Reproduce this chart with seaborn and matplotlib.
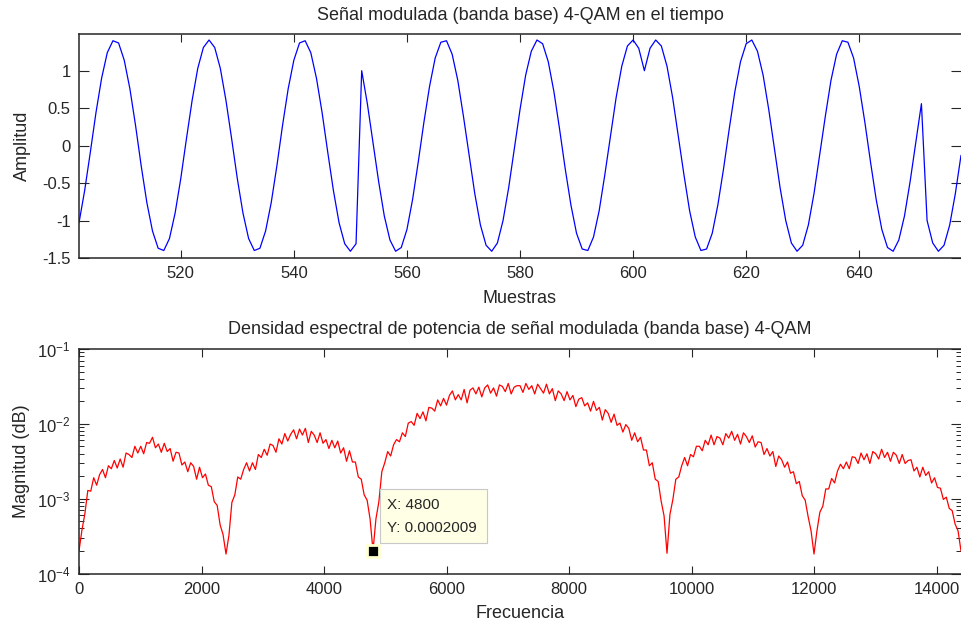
import numpy as np
import seaborn as sns
import matplotlib.pyplot as plt

# --- time signal, samples 502..658 ---
sample_start = 502
amplitude = [
    -1.03, -0.60, -0.09, 0.44, 0.90, 1.24, 1.40, 1.37, 1.14, 0.76,
    0.27, -0.27, -0.76, -1.14, -1.37, -1.40, -1.24, -0.90, -0.44, 0.09,
    0.60, 1.03, 1.31, 1.41, 1.31, 1.03, 0.60, 0.09, -0.44, -0.90,
    -1.24, -1.40, -1.37, -1.14, -0.76, -0.27, 0.27, 0.76, 1.14, 1.37,
    1.40, 1.24, 0.90, 0.44, -0.09, -0.60, -1.03, -1.31, -1.41, -1.31,
    1.00, 0.56, 0.04, -0.48, -0.94, -1.26, -1.41, -1.36, -1.12, -0.72,
    -0.22, 0.31, 0.79, 1.17, 1.38, 1.40, 1.22, 0.87, 0.39, -0.13,
    -0.64, -1.06, -1.33, -1.41, -1.30, -1.00, -0.56, -0.04, 0.48, 0.94,
    1.26, 1.41, 1.36, 1.12, 0.72, 0.22, -0.31, -0.79, -1.17, -1.38,
    -1.40, -1.22, -0.87, -0.39, 0.13, 0.64, 1.06, 1.33, 1.41, 1.30,
    1.00, 1.30, 1.41, 1.33, 1.06, 0.64, 0.13, -0.39, -0.87, -1.22,
    -1.40, -1.38, -1.17, -0.79, -0.31, 0.22, 0.72, 1.12, 1.36, 1.41,
    1.26, 0.94, 0.48, -0.04, -0.56, -1.00, -1.30, -1.41, -1.33, -1.06,
    -0.64, -0.13, 0.39, 0.87, 1.22, 1.40, 1.38, 1.17, 0.79, 0.31,
    -0.22, -0.72, -1.12, -1.36, -1.41, -1.26, -0.94, -0.48, 0.04, 0.56,
    -1.00, -1.30, -1.41, -1.33, -1.06, -0.64, -0.13,
]

# --- PSD, log10 of magnitude every 48 Hz, one list per 2400 Hz lobe ---
freq_step = 48
psd_lobe1 = [
    -3.70, -3.42, -3.20, -2.89, -2.90, -2.72, -2.82, -2.68, -2.61, -2.72,
    -2.56, -2.60, -2.49, -2.59, -2.47, -2.58, -2.39, -2.41, -2.45, -2.30,
    -2.39, -2.30, -2.40, -2.25, -2.26, -2.18, -2.32, -2.27, -2.38, -2.26,
    -2.37, -2.33, -2.50, -2.38, -2.39, -2.55, -2.51, -2.64, -2.52, -2.57,
    -2.74, -2.58, -2.72, -2.67, -2.82, -2.84, -3.04, -3.09, -3.35, -3.48,
]
psd_lobe2 = [
    -3.74, -3.49, -3.05, -2.95, -2.71, -2.74, -2.61, -2.52, -2.63, -2.52,
    -2.61, -2.41, -2.45, -2.34, -2.42, -2.27, -2.29, -2.38, -2.20, -2.27,
    -2.13, -2.23, -2.14, -2.08, -2.20, -2.07, -2.15, -2.06, -2.25, -2.10,
    -2.15, -2.25, -2.12, -2.26, -2.21, -2.33, -2.22, -2.32, -2.23, -2.39,
    -2.32, -2.50, -2.36, -2.51, -2.51, -2.71, -2.74, -2.95, -3.02, -3.27,
]
psd_lobe3 = [
    -3.697, -3.27, -3.04, -2.64, -2.52, -2.37, -2.43, -2.28, -2.21, -2.24,
    -2.12, -2.17, -1.99, -1.97, -2.02, -1.86, -1.93, -1.84, -1.96, -1.78,
    -1.79, -1.83, -1.68, -1.76, -1.66, -1.75, -1.62, -1.56, -1.68, -1.61,
    -1.68, -1.54, -1.72, -1.55, -1.52, -1.60, -1.51, -1.64, -1.52, -1.48,
    -1.59, -1.52, -1.63, -1.48, -1.50, -1.57, -1.46, -1.60, -1.51, -1.49,
]
psd_lobe4 = [
    -1.49, -1.58, -1.46, -1.54, -1.49, -1.60, -1.47, -1.53, -1.59, -1.47,
    -1.60, -1.53, -1.69, -1.56, -1.60, -1.69, -1.57, -1.68, -1.62, -1.77,
    -1.67, -1.65, -1.76, -1.72, -1.83, -1.70, -1.82, -1.78, -1.95, -1.81,
    -1.86, -1.98, -1.87, -2.02, -1.99, -2.11, -2.01, -2.06, -2.22, -2.12,
    -2.24, -2.18, -2.35, -2.35, -2.56, -2.52, -2.74, -2.77, -3.03, -3.23,
]
psd_lobe5 = [
    -3.73, -3.21, -3.01, -2.74, -2.71, -2.56, -2.45, -2.56, -2.41, -2.44,
    -2.30, -2.30, -2.36, -2.22, -2.28, -2.15, -2.28, -2.17, -2.19, -2.28,
    -2.13, -2.19, -2.10, -2.22, -2.14, -2.27, -2.12, -2.17, -2.25, -2.16,
    -2.31, -2.24, -2.25, -2.41, -2.33, -2.43, -2.37, -2.57, -2.43, -2.48,
    -2.58, -2.51, -2.66, -2.64, -2.80, -2.77, -2.96, -3.02, -3.24, -3.43,
]
psd_lobe6 = [
    -3.74, -3.43, -3.18, -3.10, -2.87, -2.87, -2.73, -2.79, -2.63, -2.54,
    -2.60, -2.51, -2.60, -2.44, -2.45, -2.53, -2.39, -2.48, -2.40, -2.53,
    -2.37, -2.40, -2.47, -2.34, -2.45, -2.38, -2.50, -2.38, -2.42, -2.53,
    -2.41, -2.53, -2.49, -2.48, -2.63, -2.58, -2.71, -2.58, -2.69, -2.64,
    -2.79, -2.72, -2.85, -2.86, -3.01, -2.98, -3.13, -3.16, -3.34, -3.43,
    -3.70,
]

# data tip
tip_x = 4800
tip_y = 0.0002009

samples = np.arange(sample_start, sample_start + len(amplitude))
psd_log = psd_lobe1 + psd_lobe2 + psd_lobe3 + psd_lobe4 + psd_lobe5 + psd_lobe6
freqs = np.arange(len(psd_log)) * freq_step
magnitude = 10 ** np.array(psd_log)

sns.set_style('ticks')
plt.rcParams['font.family'] = ['Liberation Sans', 'DejaVu Sans']
plt.rcParams['axes.linewidth'] = 1.1

W, H = 961, 628
fig = plt.figure(figsize=(W / 100, H / 100), dpi=100)
ax1 = fig.add_axes([79 / W, 1 - 258 / H, 1 - 79 / W, 224 / H])
ax2 = fig.add_axes([79 / W, 1 - 573.5 / H, 1 - 79 / W, 224.5 / H])

# top: time signal
sns.lineplot(x=samples, y=amplitude, ax=ax1, color='#0000ff', linewidth=0.9,
             estimator=None, sort=False)
ax1.set_xlim(502, 658)
ax1.set_ylim(-1.5, 1.49)
ax1.set_xticks([520, 540, 560, 580, 600, 620, 640])
ax1.set_yticks([-1.5, -1, -0.5, 0, 0.5, 1])
ax1.set_yticklabels(['-1.5', '-1', '-0.5', '0', '0.5', '1'])
ax1.set_title('Señal modulada (banda base) 4-QAM en el tiempo', fontsize=13, pad=10)
ax1.set_xlabel('Muestras', fontsize=13)
ax1.set_ylabel('Amplitud', fontsize=13)

# bottom: PSD
sns.lineplot(x=freqs, y=magnitude, ax=ax2, color='#ff0000', linewidth=0.9,
             estimator=None, sort=False)
ax2.set_yscale('log')
ax2.set_xlim(0, 14400)
ax2.set_ylim(1e-4, 1e-1)
ax2.set_xticks(np.arange(0, 14001, 2000))
ax2.set_title('Densidad espectral de potencia de señal modulada (banda base) 4-QAM',
              fontsize=13, pad=11)
ax2.set_xlabel('Frecuencia', fontsize=13)
ax2.set_ylabel('Magnitud (dB)', fontsize=13)

for ax in (ax1, ax2):
    ax.spines['right'].set_visible(False)
    ax.tick_params(which='major', direction='in', top=True, right=True,
                   length=6, width=0.8, labelsize=12, pad=6)
    ax.tick_params(axis='y', which='major', length=7)
    ax.tick_params(axis='y', which='minor', direction='in', left=True, right=True,
                   length=3.5, width=0.7)
    ax.yaxis.set_label_coords(-0.055, 0.5)
ax1.xaxis.set_label_coords(0.5, -0.145)
ax2.xaxis.set_label_coords(0.5, -0.14)

# data tip marker and box
ax2.plot([tip_x], [tip_y], marker='s', markersize=9, color='black',
         markeredgecolor='#ffffd0', markeredgewidth=2, linestyle='none', zorder=5)
fig.patches.append(plt.Rectangle((380 / W, 1 - 543 / H), 107 / W, 54 / H,
                                 transform=fig.transFigure, facecolor='#ffffe6',
                                 edgecolor='#c8c8c8', linewidth=0.8, zorder=4))
fig.text(387 / W, 1 - 505 / H, f'X: {tip_x}', fontsize=11, va='center', zorder=6)
fig.text(387 / W, 1 - 528 / H, f'Y: {tip_y:.7f}', fontsize=11, va='center', zorder=6)

fig.savefig('out.png', dpi=100)
